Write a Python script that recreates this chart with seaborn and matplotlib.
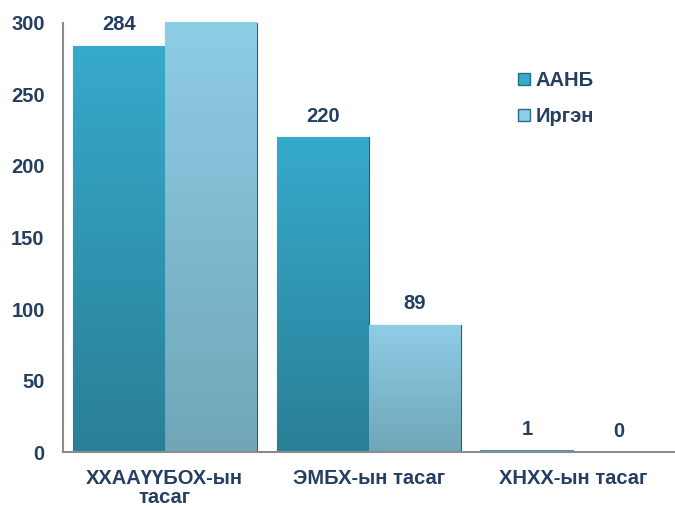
import numpy as np
import pandas as pd
import matplotlib
matplotlib.use("Agg")
import matplotlib.pyplot as plt
import seaborn as sns
from matplotlib.lines import Line2D
from matplotlib.colors import LinearSegmentedColormap

categories = ["ХХААҮҮБОХ-ын\nтасаг", "ЭМБХ-ын тасаг", "ХНХХ-ын тасаг"]
series = ["ААНБ", "Иргэн"]
aanb = [284, 220, 1]
irgen = [340, 89, 0]
ymax = 300
yticks = [0, 50, 100, 150, 200, 250, 300]

df = pd.DataFrame({
    "cat": categories * 2,
    "series": [series[0]] * 3 + [series[1]] * 3,
    "val": aanb + irgen,
})

sns.set_style("white")
plt.rcParams["font.family"] = ["Liberation Sans", "DejaVu Sans"]
text_color = "#243f60"
FS = 14.5
pal = {"ААНБ": "#30a2c2", "Иргэн": "#8dcae2"}
grad = {"ААНБ": ("#36aacb", "#2a7f96"), "Иргэн": ("#8ecde6", "#70a6b8")}

fig = plt.figure(figsize=(6.75, 5.08), dpi=100)
ax = fig.add_axes([0.093, 0.110, 0.907, 0.845])
sns.barplot(data=df, x="cat", y="val", hue="series", palette=pal,
            width=0.9, saturation=1, ax=ax, legend=False)
ax.set_ylim(0, ymax)
ax.set_xlim(-0.5, 2.5)

# gradient fill for bars
for container, s in zip(ax.containers, series):
    cmap = LinearSegmentedColormap.from_list(s, [grad[s][1], grad[s][0]])
    for bar in container:
        x0, y0 = bar.get_x(), bar.get_y()
        w, h = bar.get_width(), bar.get_height()
        if h <= 0:
            continue
        top = min(h, ymax)
        if h < 3:
            bar.set_facecolor("#3a9cb8")
            bar.set_edgecolor("#3a9cb8")
            bar.set_linewidth(1.5)
            continue
        g = np.linspace(0, 1, 100).reshape(-1, 1)
        im = ax.imshow(g, cmap=cmap, origin="lower", aspect="auto",
                       extent=[x0, x0 + w, y0, top], zorder=bar.get_zorder())
        im.set_clip_path(bar)
        bar.set_facecolor("none")
        bar.set_edgecolor("#1f5f70")
        bar.set_linewidth(0.8)
ax.set_xlim(-0.5, 2.5)
ax.set_ylim(0, ymax)

# value labels
for container, vals in zip(ax.containers, [aanb, irgen]):
    for bar, v in zip(container, vals):
        if v > ymax:
            continue
        ax.text(bar.get_x() + bar.get_width() / 2, v + 8, str(v),
                ha="center", va="bottom", fontsize=FS, fontweight="bold",
                color=text_color)

ax.set_yticks(yticks)
ax.set_yticklabels([str(t) for t in yticks], fontsize=FS, fontweight="bold", color=text_color)
ax.tick_params(axis="y", length=0, pad=13)
ax.tick_params(axis="x", length=0, pad=12)
for lbl in ax.get_xticklabels():
    lbl.set_fontsize(FS)
    lbl.set_fontweight("bold")
    lbl.set_color(text_color)
    lbl.set_linespacing(1.0)
ax.set_xlabel("")
ax.set_ylabel("")
for side in ["top", "right"]:
    ax.spines[side].set_visible(False)
for side in ["left", "bottom"]:
    ax.spines[side].set_color("#8c8c8c")
    ax.spines[side].set_linewidth(1.5)

handles = [Line2D([0], [0], marker="s", linestyle="none", markersize=8,
                  markerfacecolor=grad[s][0], markeredgecolor="#2a6f80", label=s)
           for s in series]
leg = ax.legend(handles=handles, loc="upper left", bbox_to_anchor=(0.71, 0.93),
                frameon=False, handletextpad=0.2, labelspacing=0.85, handlelength=0.8,
                prop={"size": FS, "weight": "bold"})
for t in leg.get_texts():
    t.set_color(text_color)

fig.savefig("out.png", dpi=100)
